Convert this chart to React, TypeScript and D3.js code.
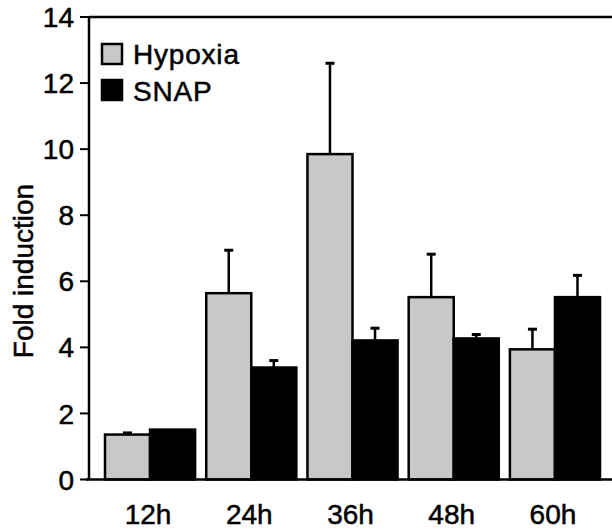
import React, { useRef, useEffect } from "react";
import { select, scaleLinear, scaleBand } from "d3";

const categories = ["12h", "24h", "36h", "48h", "60h"];
const hypoxia = [1.36, 5.64, 9.85, 5.52, 3.94];
const hypoxiaErr = [0.05, 1.3, 2.75, 1.3, 0.61];
const snap = [1.51, 3.39, 4.21, 4.27, 5.52];
const snapErr = [0, 0.21, 0.37, 0.12, 0.66];
const yTicks = [0, 2, 4, 6, 8, 10, 12, 14];
const seriesNames = ["Hypoxia", "SNAP"];

const width = 612;
const height = 531;
const font = "'Liberation Sans', Arial, Helvetica, sans-serif";

const App = () => {
  const svgRef = useRef(null);

  useEffect(() => {
    const svg = select(svgRef.current);
    svg.selectAll("*").remove();

    const axisX = 89;
    const yScale = scaleLinear().domain([0, 14]).range([479.5, 17]);

    const xScale = scaleBand()
      .domain(categories)
      .range([105, 600])
      .paddingInner(0.11)
      .paddingOuter(0);

    const inner = scaleBand()
      .domain(seriesNames)
      .range([0, xScale.bandwidth()]);

    const colors = { Hypoxia: "#c8c8c8", SNAP: "#000" };

    // text look: heavy-ish helvetica
    const txt = sel => sel
      .attr("font-family", font)
      .attr("font-size", 28)
      .attr("stroke", "#000")
      .attr("stroke-width", 0.5)
      .attr("fill", "#000");

    // frame: left axis, top line
    svg.append("line")
      .attr("x1", axisX).attr("x2", axisX)
      .attr("y1", yScale(14)).attr("y2", yScale(0))
      .attr("stroke", "#000").attr("stroke-width", 2.5);
    svg.append("line")
      .attr("x1", axisX).attr("x2", width)
      .attr("y1", yScale(14)).attr("y2", yScale(14))
      .attr("stroke", "#000").attr("stroke-width", 2.5);

    // y ticks
    const ticks = svg.append("g");
    ticks.selectAll("line")
      .data(yTicks)
      .join("line")
      .attr("x1", 80).attr("x2", axisX)
      .attr("y1", d => yScale(d)).attr("y2", d => yScale(d))
      .attr("stroke", "#000").attr("stroke-width", 2);
    ticks.selectAll("text")
      .data(yTicks)
      .join("text")
      .attr("x", 74)
      .attr("y", d => yScale(d))
      .attr("dy", "0.36em")
      .attr("text-anchor", "end")
      .call(txt)
      .text(d => d);

    // bars
    const rows = categories.map((c, i) => [
      { cat: c, key: "Hypoxia", v: hypoxia[i], e: hypoxiaErr[i] },
      { cat: c, key: "SNAP", v: snap[i], e: snapErr[i] },
    ]).flat();

    const cx = d => xScale(d.cat) + inner(d.key) + inner.bandwidth() / 2;
    const bars = svg.append("g");
    const err = rows.filter(d => d.e > 0);
    bars.selectAll(".err")
      .data(err)
      .join("line")
      .attr("class", "err")
      .attr("x1", cx).attr("x2", cx)
      .attr("y1", d => yScale(d.v))
      .attr("y2", d => yScale(d.v + d.e))
      .attr("stroke", "#000").attr("stroke-width", 2.5);
    bars.selectAll(".cap")
      .data(err)
      .join("line")
      .attr("class", "cap")
      .attr("x1", d => cx(d) - 4.5)
      .attr("x2", d => cx(d) + 4.5)
      .attr("y1", d => yScale(d.v + d.e))
      .attr("y2", d => yScale(d.v + d.e))
      .attr("stroke", "#000").attr("stroke-width", 3);

    bars.selectAll(".bar")
      .data(rows)
      .join("rect")
      .attr("class", "bar")
      .attr("x", d => xScale(d.cat) + inner(d.key))
      .attr("y", d => yScale(d.v))
      .attr("width", inner.bandwidth())
      .attr("height", d => yScale(0) - yScale(d.v))
      .attr("fill", d => colors[d.key])
      .attr("stroke", "#000")
      .attr("stroke-width", 2.5);

    svg.append("line")
      .attr("x1", 86).attr("x2", width)
      .attr("y1", yScale(0)).attr("y2", yScale(0))
      .attr("stroke", "#000").attr("stroke-width", 2.5);

    // x labels
    svg.append("g").selectAll("text")
      .data(categories)
      .join("text")
      .attr("x", d => xScale(d) + xScale.bandwidth() / 2 - 2)
      .attr("y", 524)
      .attr("text-anchor", "middle")
      .call(txt)
      .text(d => d);

    // y title
    svg.append("text")
      .attr("transform", "translate(33,271) rotate(-90)")
      .attr("text-anchor", "middle")
      .call(txt)
      .text("Fold induction");

    // legend
    const legend = svg.append("g");
    legend.selectAll("rect")
      .data(seriesNames)
      .join("rect")
      .attr("x", 102)
      .attr("y", (d, i) => 44 + i * 36)
      .attr("width", 20)
      .attr("height", 20)
      .attr("fill", d => colors[d])
      .attr("stroke", "#000")
      .attr("stroke-width", 2.5);
    legend.selectAll("text")
      .data(seriesNames)
      .join("text")
      .attr("x", 133)
      .attr("y", (d, i) => 64 + i * 37)
      .call(txt)
      .attr("letter-spacing", 0.8)
      .text(d => d);
  }, []);

  return (
    <div style={{ position: "absolute", left: 0, top: 0 }}>
      <svg ref={svgRef} width={width} height={height} style={{ display: "block", background: "#fff" }} />
    </div>
  );
};

export default App;
